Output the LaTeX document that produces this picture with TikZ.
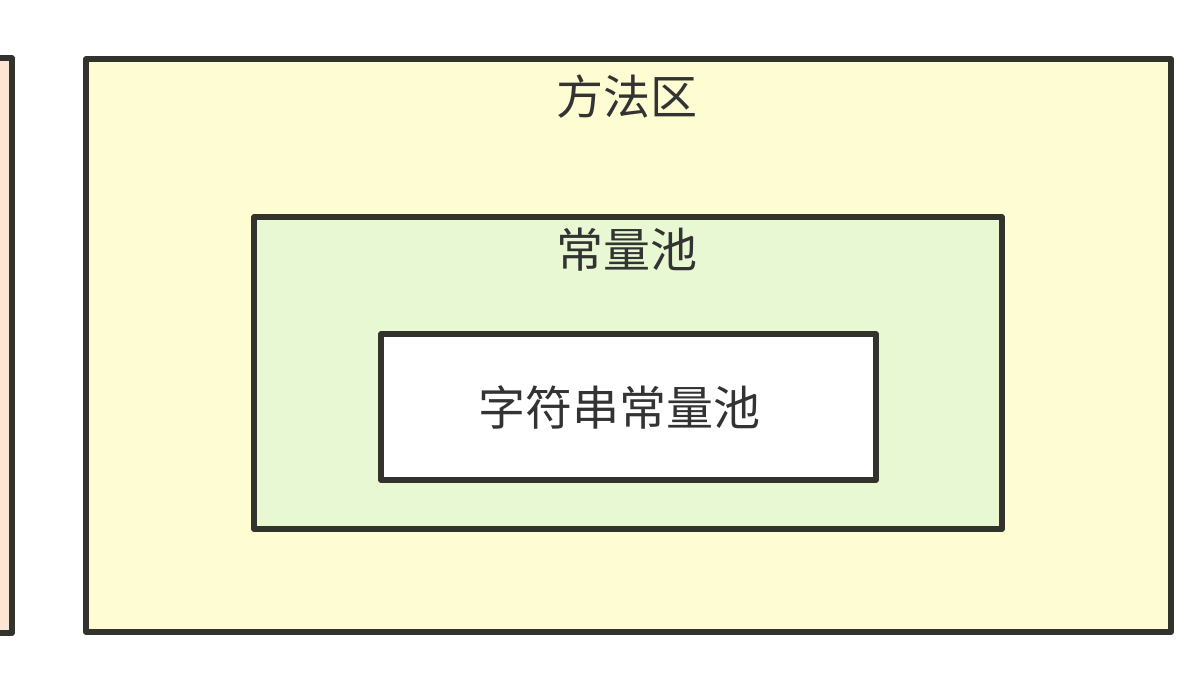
\documentclass[tikz,border=0pt]{standalone}
\usepackage{fontspec}
\setmainfont{Noto Sans CJK SC}
\definecolor{edge}{HTML}{33332D}
\definecolor{txt}{HTML}{333333}
\definecolor{peach}{HTML}{FBE6D6}
\definecolor{yel}{HTML}{FEFCD2}
\definecolor{grn}{HTML}{E8F8D2}
\tikzset{
  region/.style={draw=edge, line width=5.5pt, line join=round},
  lbl/.style={text=txt, font=\fontsize{47pt}{50pt}\selectfont, inner sep=0pt, anchor=center}
}
\begin{document}
\begin{tikzpicture}[x=1pt,y=-1pt]
\useasboundingbox (0,0) rectangle (1200,675);
\fill[white] (0,0) rectangle (1200,675);
\begin{scope}
\clip (0,0) rectangle (1200,675);
\draw[region, fill=peach] (-30,58) rectangle (12,633);
\end{scope}
\draw[region, fill=yel] (86,59) rectangle (1171,632);
\draw[region, fill=grn] (254,217) rectangle (1002,529);
\draw[region, fill=white] (381,334) rectangle (876,480);
\node[lbl] (ff) at (627,97) {方法区};
\node[lbl] (cl) at (627,250) {常量池};
\node[lbl] (zf) at (619,407) {字符串常量池};
\end{tikzpicture}
\end{document}
